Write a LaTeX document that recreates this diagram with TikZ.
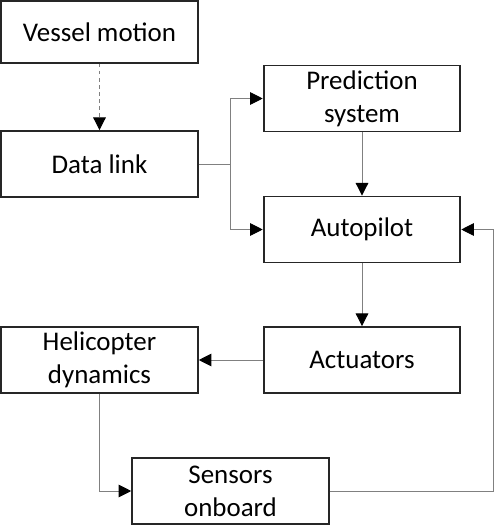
\documentclass[tikz,border=0pt]{standalone}
\usepackage{fontspec}
\setmainfont{Carlito}
\usepackage{tikz}
\usetikzlibrary{arrows.meta}
\usetikzlibrary{positioning}
\tikzset{
    block/.style={draw=black!85, line width=1.6pt, rectangle, minimum width=5.9cm,
        minimum height=1.98cm, align=center, font=\fontsize{23}{28}\selectfont, inner sep=0pt},
    link/.style={draw=black!50, line width=0.8pt, -{Triangle[length=0.38cm,width=0.38cm,black]}},
    linknoarrow/.style={draw=black!50, line width=0.8pt},
    dashlink/.style={draw=black!50, line width=0.8pt, dashed, -{Triangle[length=0.38cm,width=0.38cm,black]}}
}
\begin{document}
\begin{tikzpicture}[x=0.03cm,y=-0.03cm]
	\useasboundingbox (0,0) rectangle (494,525);
	\node[block, minimum height=1.86cm] (vessel) at (99.5,32) {Vessel motion};
	\node[block] (datalink) at (99.5,164) {Data link};
	\node[block] (prediction) at (362,98.5) {Prediction\\system};
	\node[block] (autopilot) at (362,229.5) {Autopilot};
	\node[block] (actuators) at (362,360) {Actuators};
	\node[block] (heli) at (99.5,360) {Helicopter\\dynamics};
	\node[block] (sensors) at (230.5,491) {Sensors\\onboard};
	\coordinate (split) at (230,164);
	\coordinate (corner) at (493,491);
	\draw[dashlink] (vessel) -- (datalink);
	\draw[linknoarrow] (datalink) -- (split);
	\draw[link] (split) |- (prediction);
	\draw[link] (split) |- (autopilot);
	\draw[link] (prediction) -- (autopilot);
	\draw[link] (autopilot) -- (actuators);
	\draw[link] (actuators) -- (heli);
	\draw[link] (heli) |- (sensors);
	\draw[link] (sensors) -- (corner) |- (autopilot);
\end{tikzpicture}
\end{document}
